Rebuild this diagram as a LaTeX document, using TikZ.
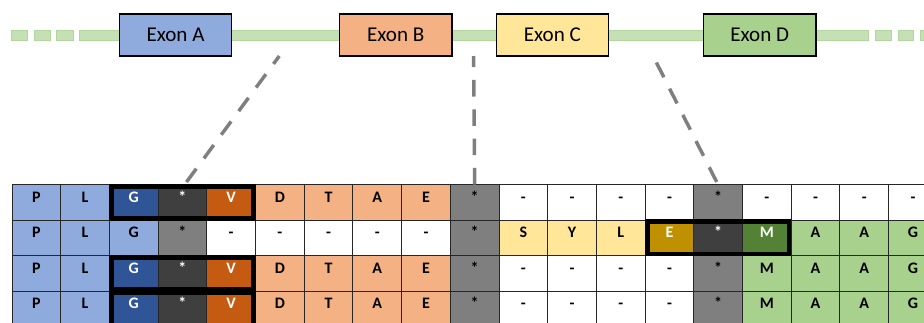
\documentclass[tikz,border=0pt]{standalone}
\usepackage{fontspec}
\setmainfont{Carlito}

% exon and residue colours
\definecolor{exA}{HTML}{8FAADC}
\definecolor{exAdark}{HTML}{2F5597}
\definecolor{exB}{HTML}{F4B183}
\definecolor{exBdark}{HTML}{C55A11}
\definecolor{exC}{HTML}{FFE699}
\definecolor{exCdark}{HTML}{BF9000}
\definecolor{exD}{HTML}{A9D18E}
\definecolor{exDdark}{HTML}{548235}
\definecolor{stopDark}{HTML}{3F3F3F}
\definecolor{stopGray}{HTML}{7F7F7F}
\definecolor{track}{HTML}{C5E0B4}
\definecolor{trackEdge}{HTML}{B3D69C}
\definecolor{gridc}{HTML}{262626}

% residue type size
\newcommand\residuefont{\fontsize{12}{14}\selectfont\bfseries}

% one alignment row: #1 row number, #2 list of fill/text colour/residue
\newcommand\alignrow[2]{%
  \foreach \fc/\tc/\tx [count=\c from 0] in #2
    \node[cell, fill=\fc, text=\tc] (c-#1-\c)
      at ({12+48.7*(\c+0.5)}, {184.5+35.5*(#1-0.5)}) {\residuefont\tx};%
}

\begin{document}
\begin{tikzpicture}[x=0.75pt,y=-0.75pt,
  exon/.style={draw=black, line width=0.8pt, minimum width=84.4pt,
    minimum height=31.5pt, inner sep=0pt, outer sep=0pt,
    font=\fontsize{15.8}{18}\selectfont},
  trackseg/.style={fill=track, draw=trackEdge, line width=0.5pt},
  cell/.style={draw=gridc, line width=0.75pt, minimum width=36.525pt,
    minimum height=26.625pt, inner sep=0pt, outer sep=0pt,
    text height=4pt, text depth=4pt},
  hilite/.style={draw=black, line width=3.6pt},
  spliceline/.style={draw=stopGray, line width=2.6pt,
    dash pattern=on 12.4pt off 9.6pt}
]
\useasboundingbox (0,0) rectangle (924,322);
\clip (0,0) rectangle (924,322);

% gene track: dashed ends and continuous backbone
\foreach \a/\b in {11/27, 34/50, 56/73, 875/891, 898/913, 920/936}
  \draw[trackseg] (\a,30) rectangle (\b,40);
\draw[trackseg] (79,30) rectangle (868,40);

% exons
\node[exon, fill=exA] (exonA) at (175.5,35) {Exon A};
\node[exon, fill=exB] (exonB) at (395.7,35) {Exon B};
\node[exon, fill=exC] (exonC) at (552.3,35) {Exon C};
\node[exon, fill=exD] (exonD) at (759.7,35) {Exon D};

% alignment rows
\def\rowOne{exA/black/P, exA/black/L, exAdark/white/G, stopDark/white/*, exBdark/white/V,
  exB/black/D, exB/black/T, exB/black/A, exB/black/E, stopGray/black/*,
  white/black/-, white/black/-, white/black/-, white/black/-, stopGray/black/*,
  white/black/-, white/black/-, white/black/-, white/black/-}
\def\rowTwo{exA/black/P, exA/black/L, exA/black/G, stopGray/black/*, white/black/-,
  white/black/-, white/black/-, white/black/-, white/black/-, stopGray/black/*,
  exC/black/S, exC/black/Y, exC/black/L, exCdark/white/E, stopDark/white/*,
  exDdark/white/M, exD/black/A, exD/black/A, exD/black/G}
\def\rowThree{exA/black/P, exA/black/L, exAdark/white/G, stopDark/white/*, exBdark/white/V,
  exB/black/D, exB/black/T, exB/black/A, exB/black/E, stopGray/black/*,
  white/black/-, white/black/-, white/black/-, white/black/-, stopGray/black/*,
  exD/black/M, exD/black/A, exD/black/A, exD/black/G}

\alignrow{1}{\rowOne}
\alignrow{2}{\rowTwo}
\alignrow{3}{\rowThree}
\alignrow{4}{\rowThree}

% outlined junction blocks
\foreach \r in {1,3,4}
  \draw[hilite] ([shift={(2.2,1.6)}]c-\r-2.north west) rectangle ([shift={(-2.2,-1.6)}]c-\r-4.south east);
\draw[hilite] ([shift={(2.2,1.6)}]c-2-13.north west) rectangle ([shift={(-2.2,-1.6)}]c-2-15.south east);

% splice-site guides
\coordinate (pA) at (279.3,56);
\coordinate (pB) at (473.6,56);
\coordinate (pC) at (656,61.7);
\coordinate (qA) at (186.5,182);
\coordinate (qC) at (716.7,182);
\draw[spliceline] (qA) -- (pA);
\draw[spliceline] (c-1-9.north) -- (pB);
\draw[spliceline] (qC) -- (pC);
\end{tikzpicture}
\end{document}
